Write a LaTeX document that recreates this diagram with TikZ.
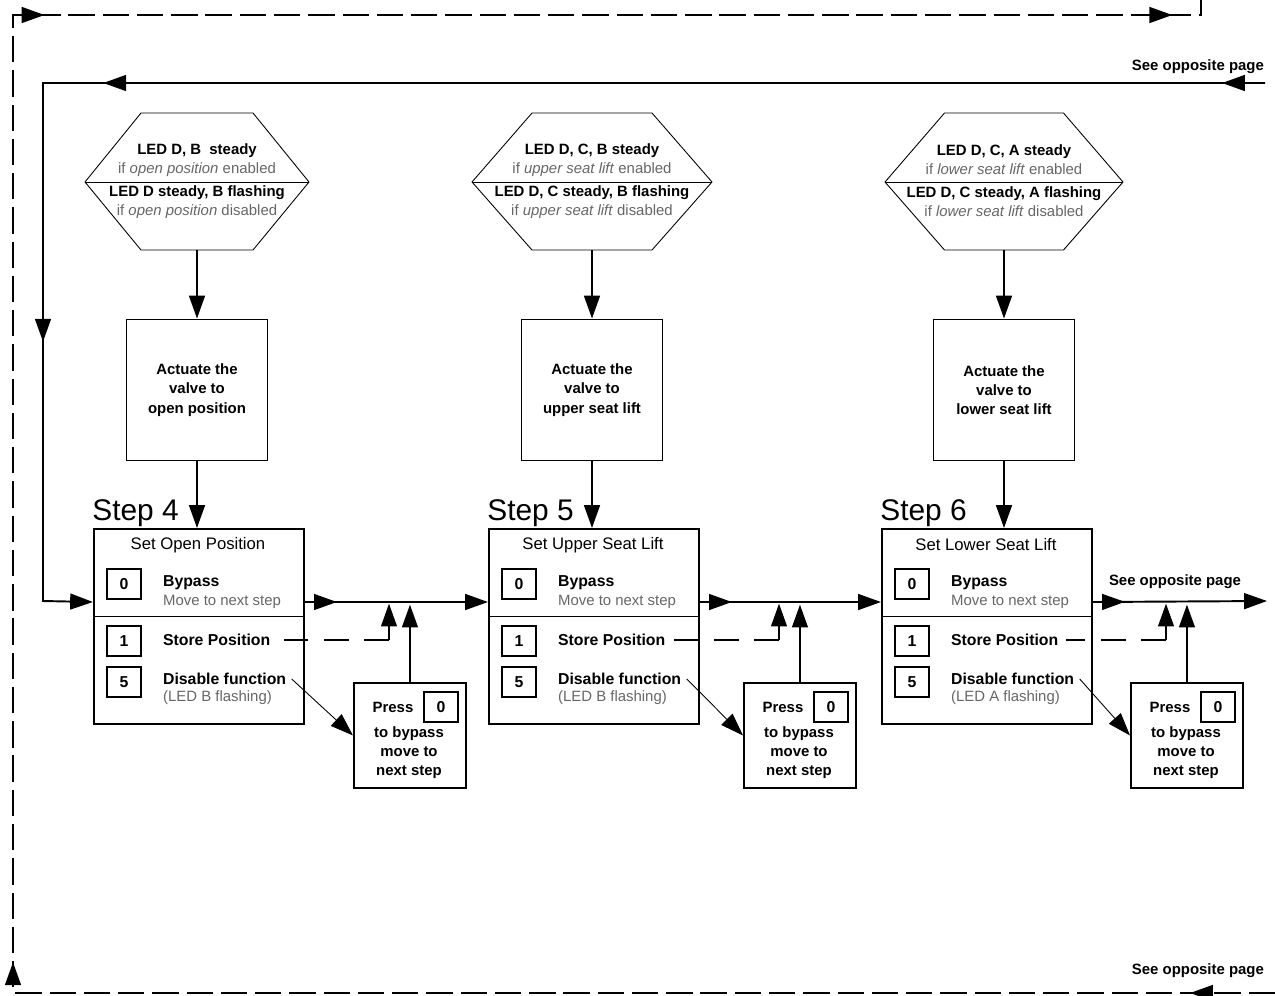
\documentclass[tikz,border=0pt]{standalone}
\usepackage{fontspec}
\setmainfont{Liberation Sans}
\usetikzlibrary{arrows.meta,decorations.markings}

\begin{document}
\begin{tikzpicture}[x=0.02cm,y=-0.02cm,
    >={Triangle[length=13pt,width=9pt]},
    every node/.style={font=\fontsize{8.5}{10.8}\selectfont,inner sep=1pt},
    bold/.style={font=\fontsize{8.5}{10.8}\selectfont\bfseries},
    keytext/.style={font=\fontsize{9}{10.8}\selectfont\bfseries},
    gray text/.style={text=black!60},
    line/.style={line width=1.1pt},
    thinline/.style={line width=0.5pt},
    loopdash/.style={line width=1.1pt,dash pattern=on 15pt off 4.5pt},
    storedash/.style={line width=1.1pt,dash pattern=on 14pt off 9pt},
    box/.style={draw,line width=1.1pt},
    stepbox/.style={box,anchor=north west,minimum width=4.2cm,minimum height=3.9cm},
    actbox/.style={box,minimum width=2.82cm,minimum height=2.82cm,align=center,
      font=\fontsize{8.5}{11}\selectfont\bfseries},
    keybox/.style={box,minimum width=19pt,minimum height=17pt,inner sep=0pt,
      font=\fontsize{9}{9}\selectfont\bfseries},
    pressbox/.style={box,anchor=north west,minimum width=2.24cm,minimum height=2.1cm},
    midarrow/.style={postaction={decorate,decoration={markings,
      mark=at position #1 with {\arrow{>}}}}}
  ]
  \useasboundingbox (0,0) rectangle (1275,995);

  \foreach \n/\x/\h/\w/\p/\ttl/\what/\on/\off/\fl in {
    4/93/197/112/353/{Set Open Position}/{open position}/{LED D, B\ \ steady}/{LED D steady, B flashing}/B,
    5/488/592/120/743/{Set Upper Seat Lift}/{upper seat lift}/{LED D, C, B steady}/{LED D, C steady, B flashing}/B,
    6/881/1004/119/1130/{Set Lower Seat Lift}/{lower seat lift}/{LED D, C, A steady}/{LED D, C steady, A flashing}/A}
  {
    % LED states
    \draw[thinline] (\h-\w,182) -- (\h-\w/2,113) -- (\h+\w/2,113) -- (\h+\w,182)
      -- (\h+\w/2,250) -- (\h-\w/2,250) -- cycle;
    \draw[thinline] (\h-\w,182) -- (\h+\w,182);
    \coordinate (led\n) at (\h,250);
    \node[align=center] (on\n) at (\h,160)
      {\textbf{\on}\\\textcolor{black!60}{if \textit{\what} enabled}};
    \node[align=center] (off\n) at (\h,202)
      {\textbf{\off}\\\textcolor{black!60}{if \textit{\what} disabled}};
    % valve
    \node[actbox] (act\n) at (\h,390) {Actuate the\\valve to\\\what};
    % step box
    \node[anchor=base west,inner sep=0pt,font=\fontsize{17}{20}\selectfont]
      (lbl\n) at (\x-1,520) {Step \n};
    \node[stepbox] (step\n) at (\x,528) {};
    \node[font=\fontsize{9.5}{11}\selectfont] (ttl\n) at (\x+105,545) {\ttl};
    \node[keybox] (zero\n) at (\x+31,584) {0};
    \node[keytext,anchor=west] (byp\n) at (\x+68,583) {Bypass};
    \node[gray text,anchor=west] (mov\n) at (\x+68,602) {Move to next step};
    \draw[thinline] (\x,616) -- (\x+210,616);
    \node[keybox] (one\n) at (\x+31,641) {1};
    \node[keytext,anchor=west] (store\n) at (\x+68,640) {Store Position};
    \node[keybox] (five\n) at (\x+31,682) {5};
    \node[keytext,anchor=west] (dis\n) at (\x+68,679) {Disable function};
    \node[gray text,anchor=west] (ledf\n) at (\x+68,698) {(LED \fl\ flashing)};
    % press 0
    \node[pressbox] (press\n) at (\p,682) {};
    \node[bold] (presst\n) at (\p+40,707) {Press};
    \node[keybox] (pkey\n) at (\p+88,707) {0};
    \node[bold,align=center] (pnext\n) at (\p+56,753) {to bypass\\move to\\next step};
    \coordinate (j\n) at (\p+36,601);

    \draw[line,->] (led\n) -- (act\n);
    \draw[line,->] (act\n) -- (act\n.south |- step\n.north);
    \draw[storedash] (j\n |- store\n) -- ([xshift=3pt]store\n.east);
    \draw[line,->,shorten >=1.5pt] (j\n |- store\n) -- (j\n);
    \draw[line,->,shorten >=1.5pt] (press\n) -- (press\n.north |- mov\n);
    \draw[thinline,->] ([xshift=2pt]dis\n.east) -- (press\n.west);
  }

  % bypass
  \coordinate (exit) at (1267,601);
  \draw[line,->,midarrow=0.64cm] (mov4 -| step4.east) -- (mov4 -| step5.west);
  \draw[line,->,midarrow=0.64cm] (mov5 -| step5.east) -- (mov5 -| step6.west);
  \draw[line,->,midarrow=0.64cm] (mov6 -| step6.east) -- (exit);
  \node[bold,anchor=base] (seenext) at (1175,585) {See opposite page};

  % back from opposite page
  \coordinate (back) at (1265,83);
  \node[bold,anchor=base east] (seeback) at (1266,70) {See opposite page};
  \draw[line,->,midarrow=0.86cm,midarrow=23.24cm,midarrow=29.62cm]
    (back) -- (43,83) -- (43,601) -- (step4.west |- mov4);

  % outer loop
  \coordinate (farin) at (1275,993);
  \coordinate (farout) at (1201,0);
  \node[bold,anchor=base east] (seefar) at (1266,974) {See opposite page};
  \draw[loopdash,midarrow=1.7cm,midarrow=25.86cm,midarrow=45.44cm,midarrow=68cm]
    (farin) -- (13,993) -- (13,15) -- (1201,15) -- (farout);
\end{tikzpicture}
\end{document}
